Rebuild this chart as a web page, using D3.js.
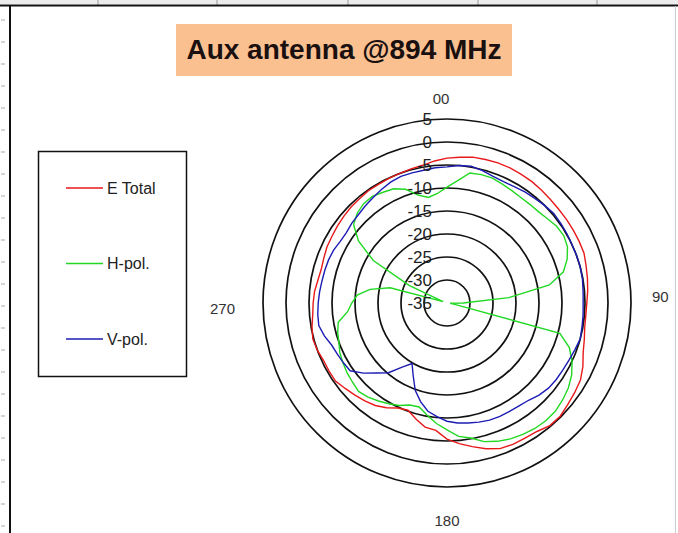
<!DOCTYPE html>
<html>
<head>
<meta charset="utf-8">
<script src="https://cdn.jsdelivr.net/npm/d3@7"></script>
<style>
body { margin: 0; background: #fff; }
text { font-family: Arial, "Liberation Sans", sans-serif; }
</style>
</head>
<body>
<div id="chart"></div>
<script>

// measurement angles (deg, clockwise from top)
var angles = [0, 5, 10, 15, 20, 25, 30, 35, 40, 45, 50, 55, 60, 65, 70, 75, 80, 85,
    90, 95, 100, 105, 110, 115, 120, 125, 130, 135, 140, 145, 150, 155, 160, 165, 170, 175,
    180, 185, 190, 195, 200, 205, 210, 215, 220, 225, 230, 235, 240, 245, 250, 255, 260, 265,
    270, 275, 280, 285, 290, 295, 300, 305, 310, 315, 320, 325, 330, 335, 340, 345, 350, 355];

var eTotal = [-3.5, -3.2, -2.8, -2.7, -2.6, -2.6, -2.7, -2.8, -3.0, -3.2, -3.3, -3.3, -3.3, -3.3, -3.3, -3.7, -4.0, -4.3,
    -4.6, -4.7, -4.6, -4.1, -3.5, -2.4, -1.5, -1.1, -0.7, -0.2, -0.2, -0.9, -1.1, -1.1, -1.3, -2.2, -3.3, -4.3,
    -5.4, -7.2, -7.6, -8.9, -10.2, -9.8, -8.7, -7.8, -7.2, -6.7, -6.1, -5.4, -5.4, -5.4, -5.0, -4.8, -5.2, -5.7,
    -5.9, -6.1, -6.5, -6.7, -6.5, -6.2, -6.1, -5.9, -5.7, -5.5, -5.4, -5.2, -5.2, -5.1, -5.0, -4.8, -4.6, -4.0];

var hPol = [-9.8, -8.3, -6.3, -6.1, -6.1, -6.5, -6.8, -7.0, -7.0, -6.9, -6.5, -5.9, -5.7, -6.1, -7.2, -8.8, -12.4, -21.5,
    -31.5, -34.3, -33.3, -9.6, -6.7, -5.0, -3.7, -2.8, -2.2, -1.7, -1.6, -1.7, -2.0, -2.4, -3.0, -3.8, -5.2, -5.9,
    -7.4, -8.7, -10.2, -11.6, -11.4, -10.4, -9.7, -9.0, -8.3, -7.8, -8.2, -8.5, -8.9, -9.3, -10.0, -10.4, -11.0, -13.3,
    -14.3, -15.4, -18.0, -22.2, -34.1, -25.9, -16.5, -11.5, -8.5, -7.4, -6.8, -6.7, -7.2, -7.6, -8.7, -10.7, -11.7, -11.1];

var vPol = [-5.4, -5.0, -4.8, -5.2, -5.7, -5.9, -5.8, -5.5, -5.3, -5.0, -4.7, -4.8, -4.9, -5.0, -5.0, -5.0, -5.1, -5.3,
    -5.4, -5.3, -5.2, -5.0, -5.4, -5.7, -5.9, -6.0, -6.2, -6.7, -7.4, -7.7, -7.8, -7.8, -7.9, -8.2, -8.5, -8.8,
    -9.3, -10.2, -11.1, -12.8, -14.8, -17.6, -19.8, -18.0, -15.2, -13.5, -11.3, -9.3, -9.0, -8.7, -8.3, -7.4, -6.7, -6.8,
    -7.0, -7.2, -7.4, -7.5, -7.6, -7.8, -8.2, -8.3, -8.0, -7.8, -7.4, -7.0, -6.5, -6.0, -5.7, -5.7, -5.7, -5.5];

var seriesNames = ["E Total", "H-pol.", "V-pol."];
var seriesColors = ["#e8191b", "#22d822", "#1c1cb4"];

var ringTicks = [5, 0, -5, -10, -15, -20, -25, -30, -35];
var dirLabels = [{ angle: 0, text: "00" }, { angle: 90, text: "90" }, { angle: 180, text: "180" }, { angle: 270, text: "270" }];

var width = 678, height = 533;
var cx = 447, cy = 303, outerR = 184;

var svg = d3.select("#chart").append("svg")
    .attr("width", width)
    .attr("height", height);

svg.append("rect").attr("width", width).attr("height", height).attr("fill", "#fff");

// spreadsheet bits around the chart object
svg.append("rect").attr("x", 0).attr("y", 0).attr("width", width).attr("height", 4).attr("fill", "#ececec");
[98, 217, 348, 478, 597].forEach(function (x) {
    svg.append("line").attr("x1", x).attr("x2", x).attr("y1", 0).attr("y2", 6)
        .attr("stroke", "#999").attr("stroke-width", 1);
});
for (var y = 20; y < height; y += 22) {
    svg.append("line").attr("x1", 1).attr("x2", 5).attr("y1", y).attr("y2", y)
        .attr("stroke", "#aaa").attr("stroke-width", 1);
}
svg.append("line").attr("x1", 0).attr("x2", width).attr("y1", 5.5).attr("y2", 5.5)
    .attr("stroke", "#111").attr("stroke-width", 2);
svg.append("line").attr("x1", 10).attr("x2", 10).attr("y1", 5).attr("y2", height)
    .attr("stroke", "#111").attr("stroke-width", 2);
svg.append("line").attr("x1", 675.5).attr("x2", 675.5).attr("y1", 6).attr("y2", height)
    .attr("stroke", "#ccc").attr("stroke-width", 1);

// title
svg.append("rect").attr("x", 176).attr("y", 24).attr("width", 336).attr("height", 52).attr("fill", "#fac090");
svg.append("text").attr("x", 344).attr("y", 59)
    .attr("text-anchor", "middle")
    .style("font-size", "28px").style("font-weight", "bold").attr("fill", "#1a1010")
    .text("Aux antenna @894 MHz");

// polar plot
var rScale = d3.scaleLinear().domain([-35, 5]).range([0, outerR]);
var plot = svg.append("g").attr("transform", "translate(" + cx + "," + cy + ")");

plot.selectAll("circle.ring").data(ringTicks.filter(function (t) { return rScale(t) > 0; }))
    .enter().append("circle")
    .attr("class", "ring")
    .attr("r", function (d) { return rScale(d); })
    .attr("fill", "none")
    .attr("stroke", "#111")
    .attr("stroke-width", 1.7);

var radial = d3.lineRadial()
    .angle(function (d, i) { return angles[i] * Math.PI / 180; })
    .radius(function (d) { return rScale(d); })
    .curve(d3.curveLinearClosed);

[eTotal, hPol, vPol].forEach(function (vals, i) {
    plot.append("path")
        .attr("d", radial(vals))
        .attr("fill", "none")
        .attr("stroke", seriesColors[i])
        .attr("stroke-width", 1.4);
});

// value labels on the rings
plot.selectAll("text.tick").data(ringTicks)
    .enter().append("text")
    .attr("class", "tick")
    .attr("x", -15)
    .attr("y", function (d) { return -rScale(d); })
    .attr("dy", "0.35em")
    .attr("text-anchor", "end")
    .style("font-size", "17px")
    .attr("fill", "#222")
    .text(function (d) { return d; });

// direction labels
dirLabels.forEach(function (d) {
    var a = d.angle * Math.PI / 180;
    var gap = d.angle === 0 ? 20 : (d.angle === 180 ? 34 : (d.angle === 90 ? 21 : 28));
    var x = Math.sin(a) * (outerR + gap);
    var y = -Math.cos(a) * (outerR + gap);
    var anchor = d.angle === 90 ? "start" : (d.angle === 270 ? "end" : "middle");
    plot.append("text")
        .attr("x", x - (d.angle === 0 ? 6 : 0))
        .attr("y", y + (d.angle === 90 ? -6 : (d.angle === 270 ? 6 : 0)))
        .attr("dy", "0.35em")
        .attr("text-anchor", anchor)
        .style("font-size", "15px")
        .attr("fill", "#333")
        .text(d.text);
});

// legend
var legend = svg.append("g");
legend.append("rect").attr("x", 38.5).attr("y", 151.5).attr("width", 148).attr("height", 225)
    .attr("fill", "#fff").attr("stroke", "#111").attr("stroke-width", 1.5);
seriesNames.forEach(function (name, i) {
    var ly = 188 + i * 75.5;
    legend.append("line").attr("x1", 66).attr("x2", 103).attr("y1", ly).attr("y2", ly)
        .attr("stroke", seriesColors[i]).attr("stroke-width", 1.4);
    legend.append("text").attr("x", 107).attr("y", ly).attr("dy", "0.35em")
        .style("font-size", "16px").attr("fill", "#222")
        .text(name);
});

</script>
</body>
</html>
